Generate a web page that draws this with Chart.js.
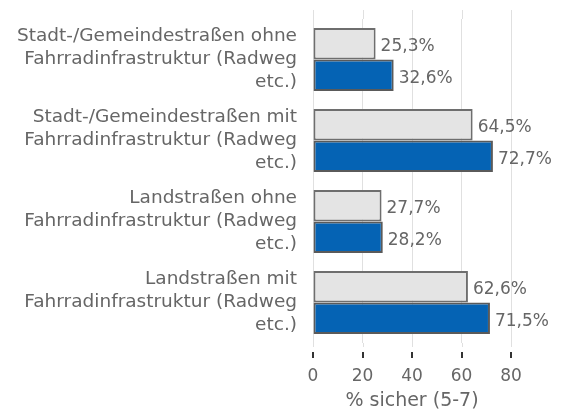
<!DOCTYPE html>
<html>
<head>
<meta charset="utf-8">
<script src="https://cdn.jsdelivr.net/npm/chart.js@4.4.0/dist/chart.umd.min.js"></script>
<style>
  html, body { margin: 0; padding: 0; background: #fff; }
  #wrap { width: 562px; height: 409px; position: relative; }
</style>
</head>
<body>
<div id="wrap"><canvas id="chart"></canvas></div>
<script>
(function () {
  'use strict';

  var categories = [
    ['Stadt-/Gemeindestraßen ohne', 'Fahrradinfrastruktur (Radweg', 'etc.)'],
    ['Stadt-/Gemeindestraßen mit', 'Fahrradinfrastruktur (Radweg', 'etc.)'],
    ['Landstraßen ohne', 'Fahrradinfrastruktur (Radweg', 'etc.)'],
    ['Landstraßen mit', 'Fahrradinfrastruktur (Radweg', 'etc.)']
  ];
  var seriesGrey = [25.3, 64.5, 27.7, 62.6];
  var seriesBlue = [32.6, 72.7, 28.2, 71.5];
  var xTicks = [0, 20, 40, 60, 80];

  var FONT = "'DejaVu Sans', sans-serif";
  var TEXT = '#666666';

  // Value labels at the end of each bar ("25,3%")
  var valueLabels = {
    id: 'valueLabels',
    afterDatasetsDraw: function (chart) {
      var ctx = chart.ctx;
      ctx.save();
      ctx.font = '17px ' + FONT;
      ctx.fillStyle = TEXT;
      ctx.textAlign = 'left';
      ctx.textBaseline = 'middle';
      chart.data.datasets.forEach(function (ds, i) {
        chart.getDatasetMeta(i).data.forEach(function (bar, j) {
          var txt = ds.data[j].toFixed(1).replace('.', ',') + '%';
          ctx.fillText(txt, bar.x + 5, bar.y + 3);
        });
      });
      ctx.restore();
    }
  };

  // Grid lines run a bit past the plot area; short dark tick marks sit below, detached
  var axisMarks = {
    id: 'axisMarks',
    beforeDatasetsDraw: function (chart) {
      var ctx = chart.ctx;
      var x = chart.scales.x;
      var area = chart.chartArea;
      ctx.save();
      ctx.strokeStyle = '#e0e0e0';
      ctx.lineWidth = 1;
      xTicks.forEach(function (v) {
        var px = Math.round(x.getPixelForValue(v)) + 0.5;
        ctx.beginPath();
        ctx.moveTo(px, area.top - 9);
        ctx.lineTo(px, area.top);
        ctx.moveTo(px, area.bottom);
        ctx.lineTo(px, area.bottom + 4);
        ctx.stroke();
      });
      ctx.restore();
    },
    afterDraw: function (chart) {
      var ctx = chart.ctx;
      var x = chart.scales.x;
      var bottom = chart.chartArea.bottom;
      ctx.save();
      ctx.strokeStyle = '#333';
      ctx.lineWidth = 2;
      xTicks.forEach(function (v) {
        var px = Math.round(x.getPixelForValue(v));
        ctx.beginPath();
        ctx.moveTo(px, bottom + 9);
        ctx.lineTo(px, bottom + 15);
        ctx.stroke();
      });
      ctx.restore();
    }
  };

  new Chart(document.getElementById('chart'), {
    type: 'bar',
    data: {
      labels: categories,
      datasets: [{
        data: seriesGrey,
        backgroundColor: '#e4e4e4',
        borderColor: '#6e6e6e',
        borderWidth: 2,
        borderSkipped: false
      }, {
        data: seriesBlue,
        backgroundColor: '#0563b4',
        borderColor: '#5a5a5a',
        borderWidth: 2,
        borderSkipped: false
      }]
    },
    options: {
      indexAxis: 'y',
      responsive: true,
      maintainAspectRatio: false,
      animation: false,
      layout: { padding: { top: 19, right: 51, bottom: 0, left: 0 } },
      datasets: { bar: { barPercentage: 1, categoryPercentage: 0.78 } },
      plugins: {
        legend: { display: false },
        tooltip: { enabled: false }
      },
      scales: {
        x: {
          min: 0,
          max: 80,
          afterBuildTicks: function (scale) {
            scale.ticks = xTicks.map(function (v) { return { value: v }; });
          },
          afterFit: function (scale) {
            scale.paddingLeft = 0;
            scale.paddingRight = 0;
            scale.height = 66;
          },
          border: { display: false },
          grid: { color: '#e0e0e0', lineWidth: 1, drawTicks: true, tickLength: 15, tickColor: 'rgba(0,0,0,0)' },
          ticks: { color: TEXT, font: { family: FONT, size: 17 }, padding: 8 },
          title: {
            display: true,
            text: '% sicher (5-7)',
            color: TEXT,
            font: { family: FONT, size: 19 },
            padding: { top: 0, bottom: -3 }
          }
        },
        y: {
          border: { display: false },
          grid: { display: false, drawTicks: false },
          ticks: { color: TEXT, font: { family: FONT, size: 18.5, lineHeight: 1.24 }, padding: 16 },
          afterFit: function (scale) {
            scale.width = 313;
            scale.paddingTop = 0;
            scale.paddingBottom = 0;
          }
        }
      }
    },
    plugins: [valueLabels, axisMarks]
  });
})();
</script>
</body>
</html>
